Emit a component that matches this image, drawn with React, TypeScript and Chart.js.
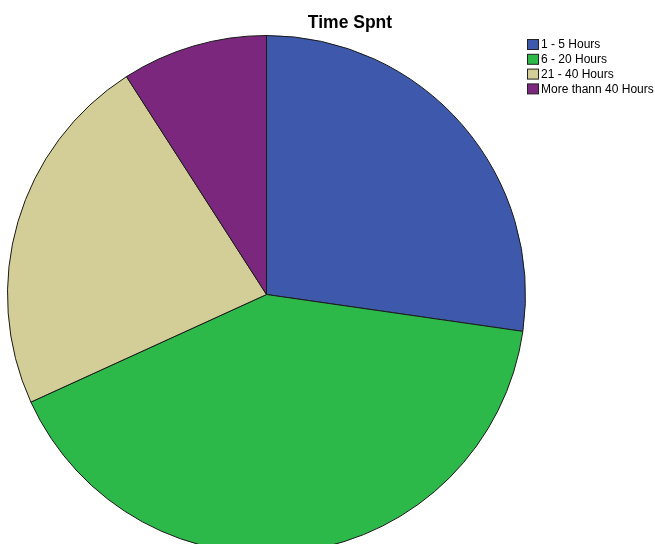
import React, { useEffect, useRef } from "react";
import { Chart, registerables } from "chart.js";

Chart.register(...registerables);

const chartTitle = "Time Spnt";
const categories = ["1 - 5 Hours", "6 - 20 Hours", "21 - 40 Hours", "More thann 40 Hours"];
const counts = [6, 9, 5, 2];
const sliceColors = ["#3E58AC", "#2DB84A", "#D3CE97", "#7B277D"];

// Draws the title and the boxed legend in the top-right corner.
const annotations = {
  id: "titleAndLegend",
  afterDraw(chart: Chart) {
    const ctx = chart.ctx;
    ctx.save();
    ctx.fillStyle = "#000";
    ctx.font = "bold 17.5px 'Liberation Sans', Arial, sans-serif";
    ctx.textAlign = "center";
    ctx.textBaseline = "alphabetic";
    ctx.fillText(chartTitle, 350, 28);

    ctx.font = "12px 'Liberation Sans', Arial, sans-serif";
    ctx.textAlign = "left";
    ctx.textBaseline = "middle";
    categories.forEach((label, i) => {
      const y = 39.5 + i * 14.8;
      ctx.fillStyle = sliceColors[i];
      ctx.fillRect(527.5, y, 11, 10);
      ctx.strokeStyle = "#222";
      ctx.lineWidth = 1;
      ctx.strokeRect(527.5, y, 11, 10);
      ctx.fillStyle = "#000";
      ctx.fillText(label, 541, y + 5.5);
    });
    ctx.restore();
  },
};

export default function App() {
  const canvasRef = useRef<HTMLCanvasElement | null>(null);

  useEffect(() => {
    if (!canvasRef.current) return;
    const chart = new Chart(canvasRef.current, {
      type: "pie",
      data: {
        labels: categories,
        datasets: [
          {
            data: counts,
            backgroundColor: sliceColors,
            borderColor: "#1a1a1a",
            borderWidth: 1,
            radius: 259,
            clip: false,
          } as any,
        ],
      },
      options: {
        animation: false,
        responsive: false,
        events: [],
        layout: { padding: { left: 0, right: 122, top: 45, bottom: 0 } },
        plugins: {
          legend: { display: false },
          tooltip: { enabled: false },
          title: { display: false },
        },
      },
      plugins: [annotations],
    });
    return () => chart.destroy();
  }, []);

  return (
    <div style={{ position: "fixed", left: 0, top: 0, width: 655, height: 544, overflow: "hidden", background: "#fff" }}>
      <canvas ref={canvasRef} width={655} height={544} style={{ display: "block" }} />
    </div>
  );
}
